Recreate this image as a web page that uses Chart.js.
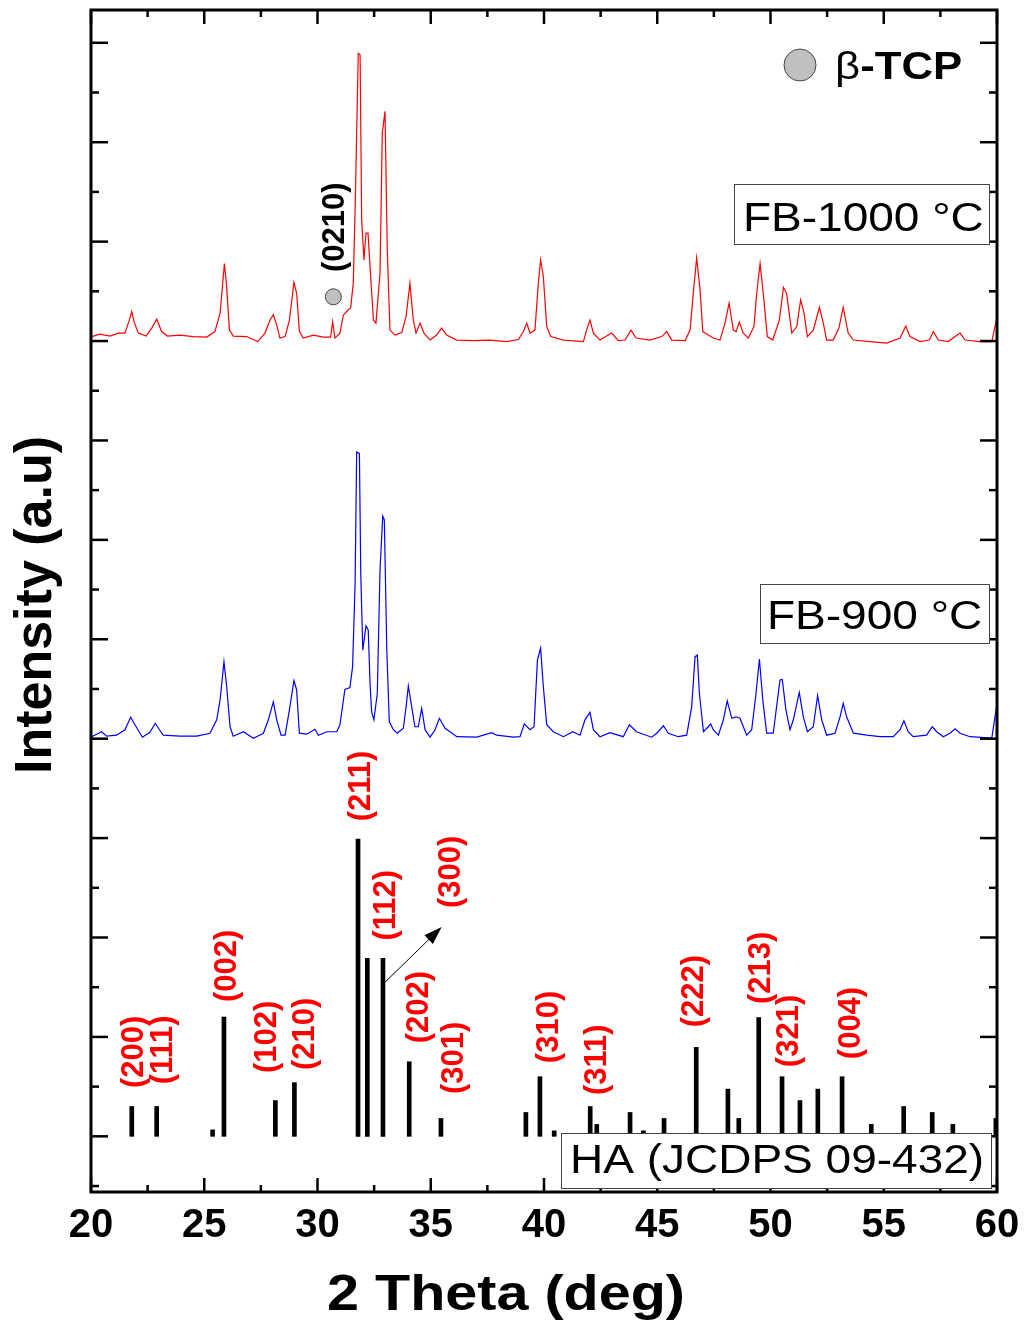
<!doctype html>
<html lang="en">
  <head>
    <meta charset="utf-8">
    <title>XRD | FB-900 / FB-1000 vs HA</title>
    <script src="https://cdn.jsdelivr.net/npm/chart.js"></script>
    <style>
      html, body { margin: 0; padding: 0; background: #fff; }
      #xrd { display: block; }
    </style>
  </head>
  <body>
    <canvas id="xrd" width="1024" height="1324"></canvas>
    <script>
      // ---- data (2theta in deg, intensity in arbitrary offset units) ----
      const fb1000 = [[20.03,17.09],[20.40,17.14],[20.84,17.10],[21.21,17.16],[21.50,17.16],[21.69,17.42],[21.80,17.59],[21.90,17.39],[22.09,17.16],[22.43,17.10],
        [22.68,17.26],[22.90,17.44],[23.12,17.19],[23.37,17.10],[23.93,17.12],[24.52,17.09],[25.11,17.08],[25.47,17.19],[25.70,17.56],[25.89,18.56],
        [25.99,18.09],[26.11,17.22],[26.29,17.10],[26.87,17.09],[27.36,16.99],[27.68,17.16],[27.90,17.42],[28.05,17.53],[28.20,17.32],[28.34,17.06],
        [28.57,17.09],[28.76,17.42],[28.96,18.18],[29.08,17.96],[29.20,17.19],[29.37,17.06],[29.82,17.12],[30.26,17.08],[30.58,17.08],[30.67,17.39],
        [30.77,17.06],[30.99,17.16],[31.14,17.52],[31.36,17.63],[31.46,17.66],[31.58,18.16],[31.67,19.84],[31.80,22.79],[31.88,22.76],[31.95,19.44],
        [32.05,18.63],[32.14,19.17],[32.23,19.17],[32.32,18.50],[32.47,17.42],[32.58,17.36],[32.76,18.36],[32.86,21.18],[32.98,21.62],[33.08,18.83],
        [33.20,17.22],[33.42,17.12],[33.72,17.17],[33.91,17.49],[34.08,18.16],[34.23,17.42],[34.35,17.16],[34.53,17.36],[34.70,17.16],[34.97,17.02],
        [35.26,17.12],[35.48,17.26],[35.70,17.12],[36.15,17.02],[36.88,17.01],[37.62,17.02],[38.35,16.99],[38.87,17.03],[39.09,17.19],[39.24,17.36],
        [39.38,17.16],[39.60,17.22],[39.75,18.16],[39.85,18.63],[39.97,18.30],[40.12,17.29],[40.30,17.09],[40.86,17.02],[41.74,16.99],[41.88,17.22],
        [42.03,17.42],[42.18,17.16],[42.47,17.02],[42.99,17.16],[43.28,17.01],[43.58,17.02],[43.84,17.22],[44.06,17.06],[44.68,17.02],[45.20,17.09],
        [45.42,17.19],[45.64,17.02],[46.23,17.01],[46.45,17.22],[46.59,17.96],[46.74,18.67],[46.89,18.03],[47.01,17.19],[47.25,17.12],[47.47,17.06],
        [47.77,17.02],[47.99,17.36],[48.17,17.76],[48.36,17.22],[48.48,17.19],[48.62,17.38],[48.80,17.16],[49.02,17.06],[49.27,17.29],[49.39,17.96],
        [49.54,18.56],[49.68,17.96],[49.86,17.09],[50.10,17.02],[50.39,17.42],[50.57,18.08],[50.71,17.96],[50.94,17.16],[51.16,17.29],[51.33,17.83],
        [51.48,17.56],[51.63,17.09],[51.89,17.22],[52.16,17.68],[52.33,17.36],[52.48,17.02],[52.77,17.02],[53.02,17.26],[53.21,17.68],[53.43,17.16],
        [53.66,17.02],[54.39,16.99],[55.13,16.96],[55.72,17.06],[55.97,17.30],[56.16,17.09],[56.60,16.99],[57.01,17.02],[57.19,17.19],[57.41,17.02],
        [57.85,16.99],[58.15,17.09],[58.37,17.16],[58.59,17.02],[59.25,16.99],[59.77,16.99],[59.91,17.29],[60.00,17.46]];

      const fb900 = [[20.03,9.04],[20.25,9.09],[20.47,9.14],[20.69,9.05],[21.13,9.07],[21.50,9.18],[21.75,9.43],[21.94,9.28],[22.27,9.03],[22.60,9.13],
        [22.84,9.31],[23.02,9.18],[23.19,9.07],[23.93,9.05],[24.67,9.05],[25.25,9.11],[25.55,9.38],[25.70,9.78],[25.87,10.55],[25.99,10.05],
        [26.14,9.24],[26.28,9.05],[26.73,9.14],[27.17,9.01],[27.61,9.11],[27.83,9.38],[28.05,9.74],[28.20,9.38],[28.39,9.07],[28.57,9.07],
        [28.76,9.58],[28.96,10.17],[29.08,9.98],[29.20,9.11],[29.52,9.09],[29.89,9.19],[30.04,9.07],[30.41,9.14],[30.85,9.14],[30.99,9.28],
        [31.21,9.99],[31.43,10.03],[31.55,10.45],[31.66,12.13],[31.73,14.77],[31.85,14.74],[31.91,12.33],[32.00,10.78],[32.14,11.27],[32.24,11.19],
        [32.32,10.11],[32.39,9.54],[32.49,9.38],[32.64,9.91],[32.76,12.39],[32.88,13.48],[32.95,13.40],[33.06,10.78],[33.17,9.34],[33.35,9.18],
        [33.52,9.11],[33.79,9.21],[33.91,9.64],[34.01,10.06],[34.16,9.64],[34.30,9.24],[34.45,9.24],[34.60,9.61],[34.75,9.18],[34.97,9.03],
        [35.19,9.18],[35.38,9.41],[35.63,9.21],[35.85,9.14],[36.15,9.04],[37.03,9.03],[37.69,9.12],[37.91,9.07],[38.65,9.03],[38.94,9.04],
        [39.13,9.30],[39.38,9.18],[39.56,9.24],[39.71,10.58],[39.85,10.82],[39.97,10.05],[40.12,9.28],[40.41,9.14],[40.86,9.04],[41.27,9.14],
        [41.59,9.07],[41.81,9.38],[42.03,9.53],[42.18,9.18],[42.47,9.04],[42.91,9.12],[43.50,9.04],[43.77,9.28],[44.08,9.14],[44.75,9.03],
        [44.98,9.11],[45.27,9.26],[45.49,9.11],[45.93,9.04],[46.30,9.07],[46.52,9.64],[46.67,10.65],[46.77,10.68],[46.86,9.91],[47.04,9.14],
        [47.25,9.24],[47.36,9.30],[47.47,9.18],[47.70,9.07],[47.92,9.38],[48.09,9.76],[48.29,9.41],[48.48,9.44],[48.65,9.41],[48.95,9.07],
        [49.17,9.18],[49.36,9.91],[49.51,10.60],[49.66,9.78],[49.83,9.11],[50.12,9.11],[50.42,10.18],[50.52,10.19],[50.68,9.58],[50.86,9.18],
        [51.01,9.38],[51.27,9.93],[51.45,9.44],[51.63,9.14],[51.89,9.24],[52.08,9.87],[52.26,9.38],[52.48,9.07],[52.85,9.11],[53.07,9.44],
        [53.21,9.71],[53.36,9.44],[53.66,9.11],[54.25,9.07],[54.83,9.04],[55.42,9.04],[55.72,9.18],[55.89,9.36],[56.08,9.14],[56.30,9.04],
        [56.89,9.07],[57.14,9.24],[57.34,9.14],[57.63,9.04],[57.92,9.11],[58.15,9.20],[58.37,9.11],[58.81,9.04],[59.77,9.01],[59.91,9.44],[59.99,9.64]];

      // HA reference stick pattern (JCPDS 09-432): [2theta, top]
      const haBase = 1;
      const haPeaks = [[21.80,1.60],[22.90,1.60],[25.37,1.13],[25.87,3.40],[28.14,1.72],[28.98,2.08],[31.79,6.98],[32.20,4.58],[32.89,4.58],[34.05,2.50],
        [35.45,1.36],[39.20,1.48],[39.82,2.20],[40.45,1.11],[42.04,1.60],[42.33,1.24],[43.80,1.48],[44.39,1.11],[45.30,1.36],[46.72,2.79],
        [48.12,1.95],[48.60,1.36],[49.48,3.39],[50.51,2.20],[51.30,1.72],[52.09,1.95],[53.16,2.20],[54.45,1.24],[55.88,1.60],[57.14,1.48],
        [58.05,1.24],[59.95,1.36]];

      // beta-TCP marker on the FB-1000 trace
      const tcpMarks = [[30.70,17.89]];

      // hkl labels: [text, 2theta, y]
      const hklLabels = [['(200)',21.94,2.70],['(111)',23.22,2.74],['(002)',26.05,4.43],['(102)',27.81,3.00],['(210)',29.49,3.06],
        ['(211)',31.96,8.05],['(112)',33.07,5.65],['(300)',35.94,6.32],['(202)',34.53,3.60],['(301)',36.07,2.58],
        ['(310)',40.26,3.20],['(311)',42.38,2.54],['(222)',46.67,3.92],['(213)',49.62,4.39],['(321)',50.86,3.12],['(004)',53.60,3.28]];

      // axis ticks
      const xMajorTicks = [20, 25, 30, 35, 40, 45, 50, 55, 60];
      const xMinorTicks = [22.5, 27.5, 32.5, 37.5, 42.5, 47.5, 52.5, 57.5];
      const yTicks = [0,1,2,3,4,5,6,7,8,9,10,11,12,13,14,15,16,17,18,19,20,21,22,23];

      const FONT = "'Liberation Sans', Arial, sans-serif";
      const SX = 1.15; // horizontal stretch of the original artwork text

      function wideText(ctx, txt, x, y, align) {
        ctx.save();
        ctx.translate(x, y);
        ctx.scale(SX, 1);
        ctx.textAlign = align;
        ctx.textBaseline = 'alphabetic';
        ctx.fillText(txt, 0, 0);
        ctx.restore();
      }

      function upText(ctx, txt, cx, cy, size) {
        ctx.save();
        ctx.translate(cx + 0.26 * size, cy);
        ctx.rotate(-Math.PI / 2);
        ctx.textAlign = 'center';
        ctx.textBaseline = 'alphabetic';
        ctx.fillText(txt, 0, 0);
        ctx.restore();
      }

      function line(ctx, x1, y1, x2, y2) {
        ctx.beginPath(); ctx.moveTo(x1, y1); ctx.lineTo(x2, y2); ctx.stroke();
      }

      function box(ctx, l, t, r, b) {
        ctx.fillStyle = '#fff';
        ctx.fillRect(l, t, r - l, b - t);
        ctx.strokeStyle = '#444';
        ctx.lineWidth = 1;
        ctx.strokeRect(l + 0.5, t + 0.5, r - l, b - t);
      }

      const decor = {
        id: 'decor',
        afterDatasetsDraw(chart) {
          const { ctx, chartArea: a, scales: { x, y } } = chart;
          ctx.save();
          ctx.strokeStyle = '#000';
          ctx.lineCap = 'butt';

          // inward ticks on all four sides
          ctx.lineWidth = 2.5;
          xMajorTicks.forEach(v => {
            const p = x.getPixelForValue(v);
            line(ctx, p, a.bottom, p, a.bottom - 14);
            line(ctx, p, a.top, p, a.top + 14);
          });
          xMinorTicks.forEach(v => {
            const p = x.getPixelForValue(v);
            line(ctx, p, a.bottom, p, a.bottom - 7);
            line(ctx, p, a.top, p, a.top + 7);
          });
          yTicks.forEach(v => {
            const p = y.getPixelForValue(v);
            const len = v % 2 === 1 ? 17 : 8;
            line(ctx, a.left, p, a.left + len, p);
            line(ctx, a.right, p, a.right - len, p);
          });

          // frame
          ctx.lineWidth = 3;
          ctx.strokeRect(a.left, a.top, a.right - a.left, a.bottom - a.top);

          // arrow from the (300) stick to its label
          const ax1 = x.getPixelForValue(32.98), ay1 = y.getPixelForValue(4.10);
          const ax2 = x.getPixelForValue(35.48), ay2 = y.getPixelForValue(5.21);
          ctx.lineWidth = 1;
          ctx.strokeStyle = '#000';
          const ang = Math.atan2(ay2 - ay1, ax2 - ax1);
          line(ctx, ax1, ay1, ax2 - 12 * Math.cos(ang), ay2 - 12 * Math.sin(ang));
          ctx.fillStyle = '#000';
          ctx.beginPath();
          ctx.moveTo(ax2, ay2);
          ctx.lineTo(ax2 - 18 * Math.cos(ang) + 6 * Math.sin(ang), ay2 - 18 * Math.sin(ang) - 6 * Math.cos(ang));
          ctx.lineTo(ax2 - 18 * Math.cos(ang) - 6 * Math.sin(ang), ay2 - 18 * Math.sin(ang) + 6 * Math.cos(ang));
          ctx.closePath();
          ctx.fill();

          // hkl labels
          ctx.fillStyle = '#ff0000';
          ctx.font = 'bold 31px ' + FONT;
          hklLabels.forEach(([t, tx, ty]) => upText(ctx, t, x.getPixelForValue(tx), y.getPixelForValue(ty), 31));

          // beta-TCP peak label
          ctx.fillStyle = '#000';
          upText(ctx, '(0210)', x.getPixelForValue(30.81), y.getPixelForValue(19.29), 31);

          // sample / reference boxes
          box(ctx, 734, 184, 989, 244);
          box(ctx, 760, 584, 989, 643);
          box(ctx, 561, 1133, 991, 1188);
          ctx.fillStyle = '#000';
          ctx.font = '40px ' + FONT;
          wideText(ctx, 'FB-1000 °C', 743, 231, 'left');
          wideText(ctx, 'FB-900 °C', 767, 629, 'left');
          wideText(ctx, 'HA (JCDPS 09-432)', 570, 1173, 'left');

          // legend
          ctx.beginPath();
          ctx.arc(800, 65, 16, 0, Math.PI * 2);
          ctx.fillStyle = '#c0c0c0';
          ctx.fill();
          ctx.strokeStyle = '#444';
          ctx.lineWidth = 1;
          ctx.stroke();
          ctx.fillStyle = '#000';
          ctx.font = '38px ' + FONT;
          wideText(ctx, 'β', 835, 79, 'left');
          const bw = ctx.measureText('β').width * SX;
          ctx.font = 'bold 38px ' + FONT;
          wideText(ctx, '-TCP', 835 + bw, 79, 'left');

          // axis titles
          ctx.font = 'bold 50px ' + FONT;
          wideText(ctx, '2 Theta (deg)', 506, 1310, 'center');
          ctx.save();
          ctx.font = 'bold 52px ' + FONT;
          ctx.translate(51, 605);
          ctx.rotate(-Math.PI / 2);
          ctx.textAlign = 'center';
          ctx.fillText('Intensity (a.u)', 0, 0);
          ctx.restore();

          ctx.restore();
        }
      };

      new Chart(document.getElementById('xrd'), {
        type: 'line',
        data: {
          datasets: [
            { label: 'FB-1000 °C', data: fb1000.map(p => ({ x: p[0], y: p[1] })), borderColor: '#ff0000', borderWidth: 1.2, pointRadius: 0, tension: 0 },
            { label: 'FB-900 °C', data: fb900.map(p => ({ x: p[0], y: p[1] })), borderColor: '#0000ff', borderWidth: 1.2, pointRadius: 0, tension: 0 },
            { type: 'bar', label: 'HA', data: haPeaks.map(p => ({ x: p[0], y: [haBase, p[1]] })), backgroundColor: '#000', barThickness: 4 },
            { label: 'β-TCP', data: tcpMarks.map(p => ({ x: p[0], y: p[1] })), showLine: false, pointRadius: 8,
              pointBackgroundColor: '#c0c0c0', pointBorderColor: '#444', pointBorderWidth: 1 }
          ]
        },
        options: {
          responsive: false,
          devicePixelRatio: 1,
          animation: false,
          layout: { padding: { left: 91, right: 27, top: 10, bottom: 0 } },
          plugins: { legend: { display: false }, tooltip: { enabled: false } },
          scales: {
            x: {
              type: 'linear', min: 20, max: 60, offset: false,
              grid: { display: false, drawTicks: false, offset: false },
              border: { display: false },
              ticks: { stepSize: 5, padding: 10, color: '#000', maxRotation: 0, autoSkip: false,
                       font: { family: FONT, size: 40, weight: 'bold' } },
              afterFit: s => { s.height = 132; s.paddingLeft = 0; s.paddingRight = 0; }
            },
            y: { type: 'linear', min: -0.12, max: 23.66, display: false }
          }
        },
        plugins: [decor]
      });
    </script>
  </body>
</html>
